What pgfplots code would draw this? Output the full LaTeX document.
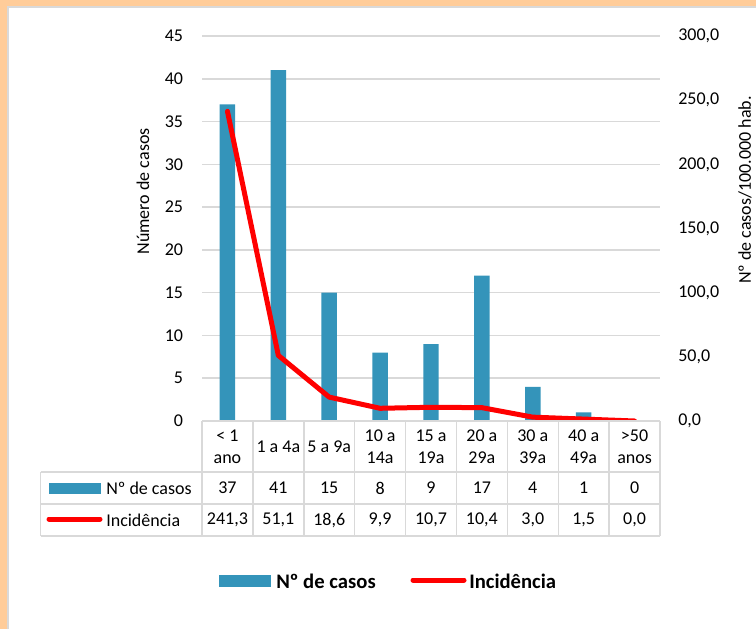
\documentclass[border=0pt]{standalone}
\usepackage{fontspec}
\setmainfont{Carlito}
\usepackage{pgfplots}
\usepackage{pgfplotstable}
\pgfplotsset{compat=1.18}
\definecolor{barblue}{RGB}{52,148,186}
\definecolor{gridgray}{RGB}{217,217,217}
\definecolor{frameor}{RGB}{255,204,153}
\newcommand\ord{\makebox[0.42em][c]{º}}
\pgfplotstableread{
x casos inc
0 37 241.3
1 41 51.1
2 15 18.6
3 8 9.9
4 9 10.7
5 17 10.4
6 4 3.0
7 1 1.5
8 0 0.0
}\datatab
\begin{document}
\fontsize{13.5}{16.5}\selectfont
\begin{tikzpicture}[x=0.75pt,y=0.75pt]
\useasboundingbox (0,0) rectangle (756,629);
\fill[frameor] (0,0) rectangle (756,629);
\fill[white] (8,0) rectangle (756,622);
\draw[gridgray, line width=1.2pt] (8,0) -- (8,622) -- (756,622);

\begin{axis}[at={(151.5pt,156pt)}, anchor=south west, scale only axis,
  width=343.5pt, height=288.75pt,
  xmin=-0.5, xmax=8.5, ymin=0, ymax=45,
  ytick={0,5,...,45}, xtick=\empty,
  ymajorgrids, grid style={gridgray, line width=1.1pt},
  axis line style={draw=none}, major tick length=0pt,
  yticklabel style={font=\fontsize{13.5}{16}\selectfont, anchor=east, inner sep=0pt, xshift=-14pt},
  /pgf/number format/assume math mode=true]
\addplot[ybar, bar width=11.6pt, bar shift=0pt, fill=barblue, draw=none] table[x=x, y=casos]{\datatab};
\end{axis}

\begin{axis}[at={(151.5pt,156pt)}, anchor=south west, scale only axis,
  width=343.5pt, height=288.75pt,
  xmin=-0.5, xmax=8.5, ymin=0, ymax=300,
  ytick={0,50,...,300}, xtick=\empty,
  axis y line*=right, hide x axis,
  axis line style={draw=none}, major tick length=0pt,
  yticklabel style={font=\fontsize{13.5}{16}\selectfont, anchor=west, inner sep=0pt, xshift=13.5pt,
    /pgf/number format/.cd, fixed, fixed zerofill, precision=1, use comma, 1000 sep={}},
  /pgf/number format/assume math mode=true]
\addplot[red, line width=3.75pt, line join=round, line cap=round, mark=none] table[x=x, y=inc]{\datatab};
\end{axis}

% axis titles
\node[rotate=90] at (143,437.5) {Número de casos};
\node[rotate=90] at (745,439) {N\ord{} de casos/100.000 hab.};

% data table grid
\begin{scope}[gridgray, line width=1.1pt]
\draw (202,208) -- (660,208);
\draw (40.7,157) -- (660,157);
\draw (40.7,125) -- (660,125);
\draw (40.7,93) -- (660,93);
\draw (40.7,157) -- (40.7,93);
\foreach \k in {0,...,9} \draw ({202+50.89*\k},208) -- ({202+50.89*\k},93);
\end{scope}

% header labels
\foreach \lab [count=\i from 0] in {{< 1\\ano},{1 a 4a},{5 a 9a},{10 a\\14a},{15 a\\19a},{20 a\\29a},{30 a\\39a},{40 a\\49a},{>50\\anos}}
  \node[align=center, inner sep=0pt] at ({227.44+50.89*\i},182.5) {\lab};

% row labels
\fill[barblue] (49,135) rectangle (101,146);
\draw[red, line width=3.75pt, line cap=round] (49,110) -- (100,110);
\node[anchor=west, inner sep=0pt] at (106,141) {N\ord{} de casos};
\node[anchor=west, inner sep=0pt] at (106,109) {Incidência};

% row values
\pgfplotstableforeachcolumnelement{casos}\of\datatab\as\v{%
  \pgfmathsetmacro\xx{227.44+50.89*\pgfplotstablerow}%
  \node[inner sep=0pt] at (\xx,141) {\v};
}
\pgfplotstableforeachcolumnelement{inc}\of\datatab\as\v{%
  \pgfmathsetmacro\xx{227.44+50.89*\pgfplotstablerow}%
  \node[inner sep=0pt] at (\xx,109) {\pgfmathprintnumber[fixed,fixed zerofill,precision=1,use comma,assume math mode=true]{\v}};
}

% bottom legend
\fill[barblue] (219,42) rectangle (271,54);
\node[anchor=west, inner sep=0pt, font=\fontsize{15.5}{18}\selectfont\bfseries] at (276,48) {N\ord{} de casos};
\draw[red, line width=3.75pt, line cap=round] (413,49) -- (464,49);
\node[anchor=west, inner sep=0pt, font=\fontsize{15.5}{18}\selectfont\bfseries] at (469,48) {Incidência};
\end{tikzpicture}
\end{document}
